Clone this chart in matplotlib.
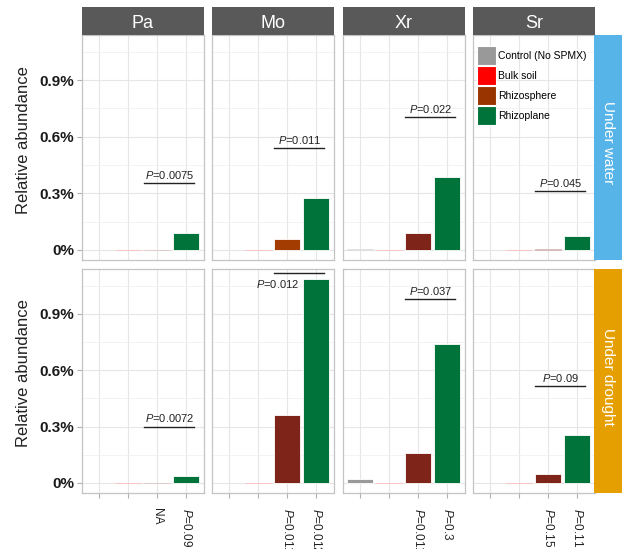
import numpy as np
import matplotlib
matplotlib.use("Agg")
import matplotlib.pyplot as plt
from matplotlib.patches import Patch
from matplotlib.colors import to_rgb

plt.rcParams['font.family'] = ['Liberation Sans', 'DejaVu Sans']
plt.rcParams['mathtext.fontset'] = 'custom'
plt.rcParams['mathtext.rm'] = 'Liberation Sans'
plt.rcParams['mathtext.it'] = 'Liberation Sans:italic'

# ---------------------------------------------------------------
# data (relative abundance, %)
# ---------------------------------------------------------------
species = ["Pa", "Mo", "Xr", "Sr"]
groups = ["Control (No SPMX)", "Bulk soil", "Rhizosphere", "Rhizoplane"]
conditions = ["Under water", "Under drought"]

nan = np.nan
water_vals = [[nan, 0.0, 0.0, 0.088],
              [nan, 0.0, 0.057, 0.275],
              [0.003, 0.0, 0.088, 0.388],
              [nan, 0.0, 0.005, 0.074]]
drought_vals = [[0.0, 0.0, 0.0, 0.039],
                [nan, 0.0, 0.359, 1.085],
                [0.021, 0.0, 0.157, 0.738],
                [nan, 0.0, 0.046, 0.256]]

# significance bars: height and p-value per species
water_sig_y = [0.353, 0.541, 0.704, 0.312]
water_sig_p = ["0.0075", "0.011", "0.022", "0.045"]
drought_sig_y = [0.300, 1.117, 0.979, 0.514]
drought_sig_p = ["0.0072", "0.012", "0.037", "0.09"]

# x labels under the drought row
drought_xlabels = [["", "", "NA", "P=0.09"],
                   ["", "", "P=0.011", "P=0.012"],
                   ["", "", "P=0.011", "P=0.3"],
                   ["", "", "P=0.15", "P=0.11"]]

# ---------------------------------------------------------------
# styling
# ---------------------------------------------------------------
fill_cols = ["#999999", "#FF0000", "#7F2418", "#00733A"]
legend_cols = ["#999999", "#FF0000", "#993300", "#00733A"]
strip_cols = ["#56B4E9", "#E69F00"]
W, H = 625.0, 549.0
col_left = [82, 212, 343, 473]
col_w = 121.5
rows = [(35, 260), (269, 493)]


def px_axes(x0, y0, x1, y1, **kw):
    return fig.add_axes([x0 / W, 1 - y1 / H, (x1 - x0) / W, (y1 - y0) / H], **kw)


def pretty(lab):
    if lab.startswith("P="):
        return r"$P$=" + lab[2:]
    return lab


def blend(c, a=0.25):
    r, g, b = to_rgb(c)
    return (1 - a + a * r, 1 - a + a * g, 1 - a + a * b)


fig = plt.figure(figsize=(6.25, 5.49), dpi=100)
x = np.arange(1, 5)

for r, (vals, sig_y, sig_p) in enumerate([(water_vals, water_sig_y, water_sig_p),
                                         (drought_vals, drought_sig_y, drought_sig_p)]):
    y0, y1 = rows[r]
    for c, sp in enumerate(species):
        ax = px_axes(col_left[c], y0, col_left[c] + col_w, y1)
        ax.set_xlim(0.4, 4.6)
        ax.set_ylim(-0.054, 1.139)
        ax.set_yticks([0, 0.3, 0.6, 0.9])
        ax.set_yticks([0.15, 0.45, 0.75, 1.05], minor=True)
        ax.set_xticks(x)
        ax.grid(True, which='major', color='#e6e6e6', lw=0.8)
        ax.grid(True, which='minor', axis='y', color='#f1f1f1', lw=0.6)
        ax.set_axisbelow(True)
        for s in ax.spines.values():
            s.set_color('#c4c4c4')
            s.set_linewidth(0.9)

        v = vals[c]
        cols = list(fill_cols)
        if r == 0 and sp == "Mo":
            cols[2] = "#A33C00"
        for i in range(4):
            if np.isnan(v[i]):
                continue
            ec = 'white' if v[i] > 0.01 else blend(cols[i])
            ax.bar(x[i], v[i], width=0.9, color=cols[i], edgecolor=ec, lw=0.6)

        # significance line + p-value
        ax.plot([2.55, 4.27], [sig_y[c], sig_y[c]], color='#222222', lw=1.0)
        if r == 1 and sp == "Mo":
            ax.text(3.42, sig_y[c] - 0.025, r"$P$=" + sig_p[c], ha='right', va='top',
                    fontsize=8, color='#222222')
        else:
            ax.text(3.42, sig_y[c] + 0.012, r"$P$=" + sig_p[c], ha='center', va='bottom',
                    fontsize=8, color='#222222')

        ax.tick_params(axis='both', color='#b0b0b0', length=3.5, width=0.8)
        if c == 0:
            ax.set_yticklabels(["0%", "0.3%", "0.6%", "0.9%"], fontsize=11,
                               fontweight='bold', color='#1a1a1a')
            ax.tick_params(axis='y', pad=2)
            ax.set_ylabel("Relative abundance", fontsize=12, color='#222222')
            ax.yaxis.set_label_coords(-0.42, 0.535)
        else:
            ax.tick_params(axis='y', length=0, labelleft=False)
        ax.tick_params(axis='y', which='minor', length=0)
        if r == 1:
            ax.set_xticklabels([pretty(t) for t in drought_xlabels[c]], rotation=270,
                               fontsize=8.5, color='#222222', ha='center', va='top')
            ax.tick_params(axis='x', pad=7)
        else:
            ax.tick_params(axis='x', length=0, labelbottom=False)

        # column headers
        if r == 0:
            sax = px_axes(col_left[c], 7, col_left[c] + col_w, 35)
            sax.set_facecolor('#595959')
            sax.set_xticks([])
            sax.set_yticks([])
            for s in sax.spines.values():
                s.set_visible(False)
            sax.text(0.5, 0.42, sp, transform=sax.transAxes, ha='center', va='center',
                     color='white', fontsize=13)

        # legend inside the last water panel
        if r == 0 and c == 3:
            handles = [Patch(facecolor=lc, edgecolor='white', lw=0.8) for lc in legend_cols]
            ax.legend(handles, groups, loc='upper left', frameon=False, fontsize=7.5,
                      bbox_to_anchor=(4 / col_w, 1 - 11 / 225.0), borderpad=0,
                      borderaxespad=0, handlelength=1.85, handleheight=2.4,
                      labelspacing=0.12, handletextpad=0.15)

    # row strips on the right
    rax = px_axes(594, y0, 622, y1)
    rax.set_facecolor(strip_cols[r])
    rax.set_xticks([])
    rax.set_yticks([])
    for s in rax.spines.values():
        s.set_visible(False)
    rax.text(0.5, 0.52, conditions[r], transform=rax.transAxes, rotation=270,
             ha='center', va='center', color='white', fontsize=11)

fig.savefig("out.png", dpi=100)
